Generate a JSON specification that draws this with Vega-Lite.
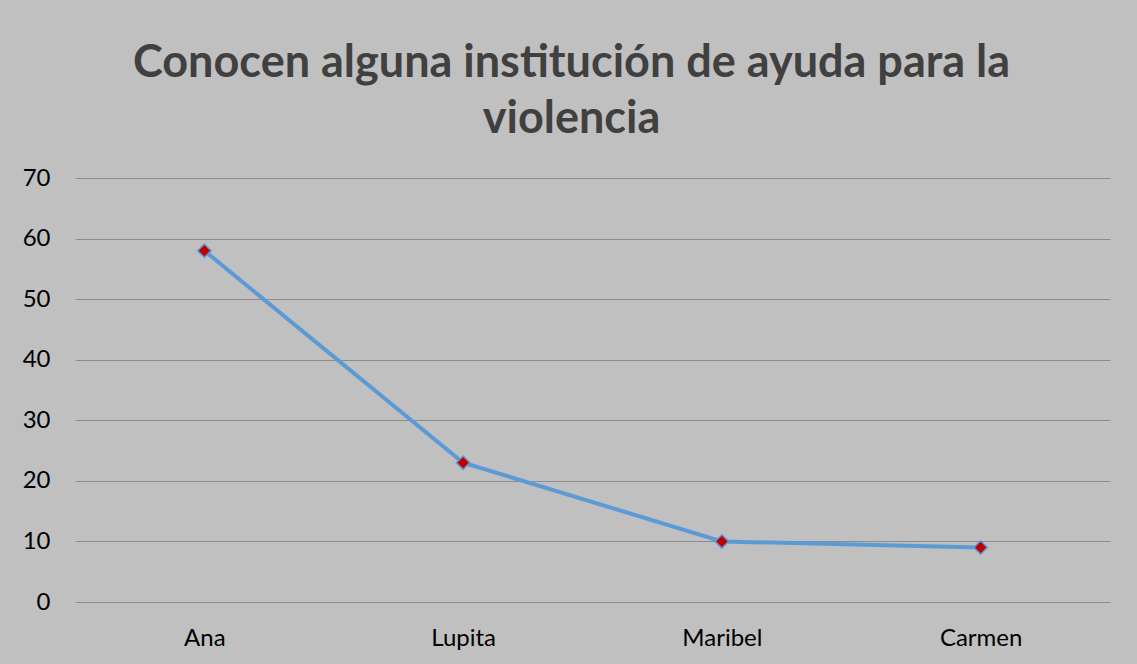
{
  "$schema": "https://vega.github.io/schema/vega-lite/v6.json",
  "autosize": "none",
  "width": 1035,
  "height": 424,
  "padding": {"left": 75, "top": 178, "right": 27, "bottom": 62},
  "background": "#C0C0C0",
  "title": {
    "text": ["Conocen alguna institución de ayuda para la", "violencia"],
    "font": "Lato",
    "fontSize": 45,
    "fontWeight": "bold",
    "color": "#404040",
    "lineHeight": 56,
    "anchor": "middle",
    "dx": -21,
    "offset": 24
  },
  "config": {
    "view": {"stroke": null},
    "axis": {
      "labelFont": "Lato",
      "labelFontSize": 24,
      "labelColor": "#000000",
      "domain": false,
      "ticks": false
    }
  },
  "data": {
    "values": [
      {"nombre": "Ana", "valor": 58},
      {"nombre": "Lupita", "valor": 23},
      {"nombre": "Maribel", "valor": 10},
      {"nombre": "Carmen", "valor": 9}
    ]
  },
  "encoding": {
    "x": {
      "field": "nombre",
      "type": "nominal",
      "sort": null,
      "scale": {"type": "point", "padding": 0.5},
      "axis": {"title": null, "labelAngle": 0, "labelPadding": 24, "grid": false}
    },
    "y": {
      "field": "valor",
      "type": "quantitative",
      "scale": {"domain": [0, 70]},
      "axis": {
        "title": null,
        "values": [0, 10, 20, 30, 40, 50, 60, 70],
        "labelPadding": 25,
        "gridColor": "#8C8C8C",
        "gridWidth": 1,
        "gridOpacity": 1
      }
    }
  },
  "layer": [
    {"mark": {"type": "line", "color": "#5B9BD5", "strokeWidth": 4}},
    {"mark": {"type": "point", "shape": "diamond", "filled": true, "fill": "#C00000", "stroke": "#5B9BD5", "strokeWidth": 1.5, "size": 180, "opacity": 1}}
  ]
}
